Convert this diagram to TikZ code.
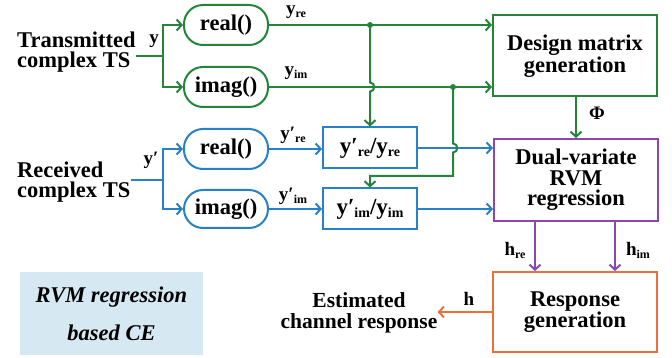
\documentclass[tikz,border=0pt]{standalone}
\usepackage{fontspec}
\setmainfont{Liberation Serif}
\usetikzlibrary{arrows.meta}
\definecolor{gcol}{RGB}{38,132,58}
\definecolor{bcol}{RGB}{40,128,200}
\definecolor{pcol}{RGB}{140,70,180}
\definecolor{ocol}{RGB}{232,112,60}
\definecolor{notefill}{RGB}{214,232,241}
% subscript set in smaller bold type
\newcommand{\lsub}[1]{\raisebox{-0.35ex}{\fontsize{12}{12}\selectfont #1}}
\newcommand{\bsub}[1]{\raisebox{-0.35ex}{\fontsize{14}{14}\selectfont #1}}
\begin{document}
\begin{tikzpicture}[x=1pt,y=-1pt,
  every node/.style={font=\fontsize{22.5}{20.5}\selectfont\bfseries, inner sep=0pt},
  tip/.style={-{Straight Barb[length=5pt,width=11pt]}},
  gl/.style={draw=gcol, line width=2pt},
  bl/.style={draw=bcol, line width=2pt},
  pl/.style={draw=pcol, line width=2pt},
  ol/.style={draw=ocol, line width=2pt},
  fn/.style={rounded corners=19pt, minimum width=84pt, minimum height=40pt},
  blockbox/.style={minimum width=164pt, minimum height=81pt, align=center},
  ratiobox/.style={minimum width=94pt, minimum height=41pt, font=\fontsize{23}{23}\selectfont\bfseries},
  lbl/.style={font=\fontsize{19}{19}\selectfont\bfseries},
  dot/.style={circle, fill=gcol, minimum size=6pt}
]
\useasboundingbox (0,0) rectangle (672,358);

% transmitted branch
\node[align=left, anchor=west] (tx) at (17,52) {Transmitted\\complex TS};
\node[lbl] at (154,41) {y};
\coordinate (s1) at (163,56);
\node[fn, gl] (re1) at (226,25) {real()};
\node[fn, gl] (im1) at (226,87) {imag()};
\draw[gl] (tx.east |- s1) -- (s1);
\draw[gl, tip] (s1) |- (re1.west);
\draw[gl, tip] (s1) |- (im1.west);

% received branch
\node[align=left, anchor=west] (rx) at (17,182) {Received\\complex TS};
\node[lbl] at (151,160) {y′};
\coordinate (s2) at (163,180);
\node[fn, bl] (re2) at (226,149) {real()};
\node[fn, bl, minimum height=38pt] (im2) at (226,209) {imag()};
\draw[bl] (rx.east |- s2) -- (s2);
\draw[bl, tip] (s2) |- (re2.west);
\draw[bl, tip] (s2) |- (im2.west);

% main blocks
\node[blockbox, gl] (dm) at (575,56) {Design matrix\\generation};
\node[blockbox, pl, minimum height=82pt] (dv) at (576,180) {Dual-variate\\RVM\\regression};
\node[blockbox, ol, minimum height=80pt] (rg) at (575,312) {Response\\generation};

% ratio blocks
\node[ratiobox, bl] (r1) at (370,148) {y′\bsub{re}/y\bsub{re}};
\node[ratiobox, bl] (r2) at (370,209) {y′\bsub{im}/y\bsub{im}};

% real and imaginary parts of y
\draw[gl, tip] (re1.east) -- (re1.east -| dm.west);
\draw[gl, tip] (im1.east) -- (im1.east -| dm.west);
\node[lbl] at (296,12) {y\lsub{re}};
\node[lbl] at (296,73) {y\lsub{im}};

% received parts into the ratio blocks
\draw[bl, tip] (re2.east) -- (re2.east -| r1.west);
\draw[bl, tip] (im2.east) -- (im2.east -| r2.west);
\node[lbl] at (293,135) {y′\lsub{re}};
\node[lbl] at (293,196) {y′\lsub{im}};

% ratios into the regression
\draw[bl, tip] (r1.east) -- (r1.east -| dv.west);
\draw[bl, tip] (r2.east) -- (r2.east -| dv.west);

% taps with hops over crossing lines
\coordinate (d1) at (370,25);
\coordinate (d2) at (453,87);
\coordinate (bend) at (453,176);
\draw[gl, tip] (d1) -- ([yshift=4.5pt]d1 |- im1.east) to[out=0,in=0,looseness=1.6] ([yshift=-4.5pt]d1 |- im1.east) -- (r1.north);
\draw[gl, tip] (d2) -- ([yshift=4.5pt]d2 |- r1.east) to[out=0,in=0,looseness=1.6] ([yshift=-4.5pt]d2 |- r1.east) -- (bend) -| (r2.north);
\node[dot] at (d1) {};
\node[dot] at (d2) {};

% design matrix
\draw[gl, tip] (dm.south -| dv.north) -- (dv.north);
\node[lbl] at (597,113) {Φ};

% regression outputs
\draw[pl, tip] ([xshift=-41pt]dv.south) -- ([xshift=-41pt]dv.south |- rg.north);
\draw[pl, tip] ([xshift=39pt]dv.south) -- ([xshift=39pt]dv.south |- rg.north);
\node[lbl] at (515,250) {h\lsub{re}};
\node[lbl] at (638,250) {h\lsub{im}};

% estimated response
\node[align=center, font=\fontsize{21.5}{20.5}\selectfont\bfseries] (est) at (359,313) {Estimated\\channel response};
\draw[ol, tip] (rg.west) -- (rg.west -| est.east);
\node[lbl] at (469,299) {h};

% caption box
\node[fill=notefill, minimum width=183pt, minimum height=83pt, align=center,
      font=\fontsize{22.5}{38}\selectfont\bfseries\itshape] (note) at (111.5,313.5)
      {RVM regression\\based CE};
\end{tikzpicture}
\end{document}
